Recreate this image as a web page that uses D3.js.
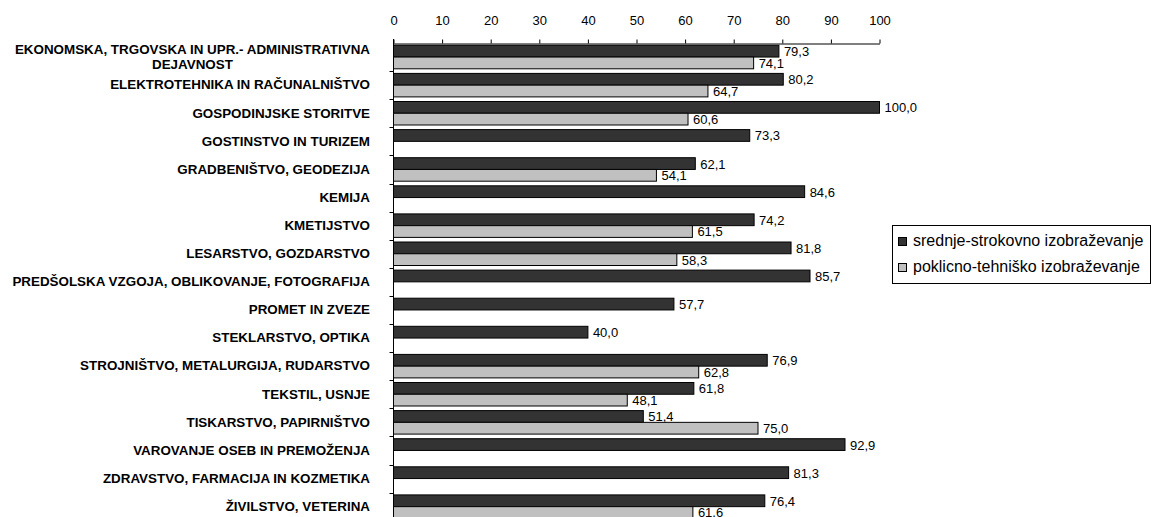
<!DOCTYPE html>
<html>
<head>
<meta charset="utf-8">
<script src="https://cdn.jsdelivr.net/npm/d3@7"></script>
<style>
  html, body { margin: 0; padding: 0; background: #fff; }
  svg { display: block; font-family: "Liberation Sans", Arial, sans-serif; }
</style>
</head>
<body>
<svg id="chart" width="1151" height="517"></svg>
<script>
const categories = [
  "EKONOMSKA, TRGOVSKA IN UPR.- ADMINISTRATIVNA DEJAVNOST",
  "ELEKTROTEHNIKA IN RAČUNALNIŠTVO",
  "GOSPODINJSKE STORITVE",
  "GOSTINSTVO IN TURIZEM",
  "GRADBENIŠTVO, GEODEZIJA",
  "KEMIJA",
  "KMETIJSTVO",
  "LESARSTVO, GOZDARSTVO",
  "PREDŠOLSKA VZGOJA, OBLIKOVANJE, FOTOGRAFIJA",
  "PROMET IN ZVEZE",
  "STEKLARSTVO, OPTIKA",
  "STROJNIŠTVO, METALURGIJA, RUDARSTVO",
  "TEKSTIL, USNJE",
  "TISKARSTVO, PAPIRNIŠTVO",
  "VAROVANJE OSEB IN PREMOŽENJA",
  "ZDRAVSTVO, FARMACIJA IN KOZMETIKA",
  "ŽIVILSTVO, VETERINA"
];
const srednje = [79.3, 80.2, 100.0, 73.3, 62.1, 84.6, 74.2, 81.8, 85.7, 57.7, 40.0, 76.9, 61.8, 51.4, 92.9, 81.3, 76.4];
const poklicno = [74.1, 64.7, 60.6, null, 54.1, null, 61.5, 58.3, null, null, null, 62.8, 48.1, 75.0, null, null, 61.6];
const seriesNames = ["srednje-strokovno izobraževanje", "poklicno-tehniško izobraževanje"];
const seriesColors = ["#333333", "#c0c0c0"];
const xTicks = [0, 10, 20, 30, 40, 50, 60, 70, 80, 90, 100];

(function () {
const svg = d3.select("#chart");
const x0 = 393.5, x1 = 879.5, topY = 43, step = 28.1;

const x = d3.scaleLinear().domain([0, 100]).range([x0, x1]);
const y = d3.scaleBand().domain(categories).range([topY, topY + step * categories.length]).paddingInner(0).paddingOuter(0);
const ySub = d3.scaleBand().domain([0, 1]).range([0, y.bandwidth()]).paddingInner(0).paddingOuter(0.196);

const fmt = v => d3.format(".1f")(v).replace(".", ",");

// Bars
const series = [srednje, poklicno];
series.forEach((vals, si) => {
  const data = categories.map((c, i) => ({ c, v: vals[i] })).filter(d => d.v != null);
  const g = svg.append("g");
  g.selectAll("rect").data(data).join("rect")
    .attr("x", x(0))
    .attr("y", d => y(d.c) + ySub(si))
    .attr("width", d => x(d.v) - x(0))
    .attr("height", ySub.bandwidth())
    .attr("fill", seriesColors[si])
    .attr("stroke", "#000")
    .attr("stroke-width", 1);
  g.selectAll("text").data(data).join("text")
    .attr("x", d => x(d.v) + 5)
    .attr("y", d => y(d.c) + ySub(si) + ySub.bandwidth() / 2)
    .attr("dy", "0.38em")
    .attr("font-size", 13)
    .attr("fill", "#000")
    .text(d => fmt(d.v));
});

// Top axis
const xAxis = svg.append("g")
  .attr("transform", `translate(0,${topY + 0.5})`)
  .call(d3.axisTop(x).tickValues(xTicks).tickSize(4).tickSizeOuter(0).tickPadding(15).tickFormat(d3.format("d")));
xAxis.selectAll("text").attr("font-size", 13).attr("fill", "#000").attr("font-family", "Liberation Sans, Arial, sans-serif");
xAxis.selectAll("line").attr("stroke", "#000");
xAxis.select(".domain").attr("stroke", "#000");

// Left axis
const yAxisG = svg.append("g");
yAxisG.append("line")
  .attr("x1", x0).attr("x2", x0)
  .attr("y1", topY - 4).attr("y2", 517)
  .attr("stroke", "#000");
yAxisG.selectAll("line.tk").data(categories.slice(1)).join("line")
  .attr("class", "tk")
  .attr("x1", x0 - 4).attr("x2", x0)
  .attr("y1", d => Math.round(y(d)) + 0.5).attr("y2", d => Math.round(y(d)) + 0.5)
  .attr("stroke", "#000");

// Category labels
const labelRight = 370, maxW = 385, lineH = 14.5;
const labels = svg.append("g").attr("font-size", 13.4).attr("font-weight", "bold").attr("fill", "#000");
categories.forEach(c => {
  const cy = y(c) + y.bandwidth() / 2;
  const t = labels.append("text").attr("text-anchor", "middle");
  const words = c.split(" ");
  const lines = [];
  let cur = [];
  const probe = labels.append("text").attr("visibility", "hidden");
  words.forEach(w => {
    const trial = cur.concat([w]).join(" ");
    probe.text(trial);
    if (probe.node().getComputedTextLength() > maxW && cur.length) {
      lines.push(cur.join(" "));
      cur = [w];
    } else cur.push(w);
  });
  lines.push(cur.join(" "));
  let w = 0;
  lines.forEach(l => { probe.text(l); w = Math.max(w, probe.node().getComputedTextLength()); });
  probe.remove();
  const cx = labelRight - w / 2;
  const y0 = cy - (lines.length - 1) * lineH / 2 - 0.5;
  lines.forEach((l, i) => {
    t.append("tspan").attr("x", cx).attr("y", y0 + i * lineH).attr("dy", "0.36em").text(l);
  });
});

// Legend
const lg = svg.append("g");
lg.append("rect").attr("x", 892.5).attr("y", 225.5).attr("width", 258).attr("height", 58)
  .attr("fill", "#fff").attr("stroke", "#000");
seriesNames.forEach((n, i) => {
  const by = 246 + i * 26;
  lg.append("rect").attr("x", 898.5).attr("y", by - 8.5).attr("width", 8).attr("height", 8)
    .attr("fill", seriesColors[i]).attr("stroke", "#000");
  lg.append("text").attr("x", 913).attr("y", by).attr("font-size", 16).attr("fill", "#000").text(n);
});
})();
</script>
</body>
</html>
